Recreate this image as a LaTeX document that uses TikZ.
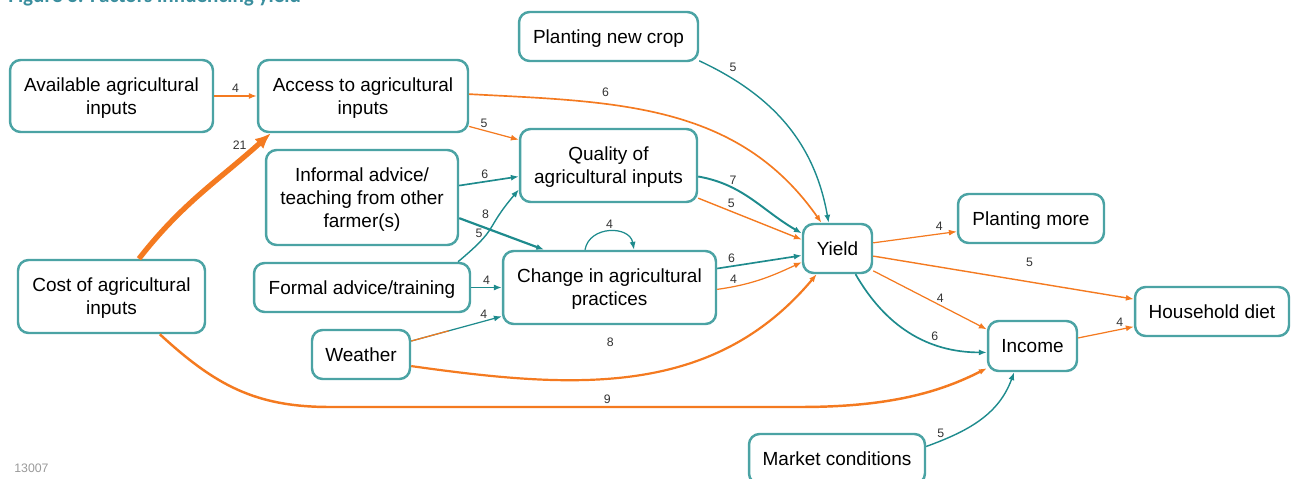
\documentclass[tikz,border=0pt]{standalone}
\usepackage{fontspec}
\setmainfont{Liberation Sans}
\newfontfamily\captionfont{Carlito}
\usetikzlibrary{arrows.meta}

\definecolor{boxteal}{HTML}{4BA3A4}
\definecolor{edgeteal}{HTML}{1E8B8D}
\definecolor{edgeorange}{HTML}{F47A20}
\definecolor{captionteal}{HTML}{3A8E9E}

\tikzset{
  factor/.style={draw=boxteal, line width=1.4pt, rounded corners=6pt, align=center,
    inner sep=0pt, text depth=0pt, font=\fontsize{10.8}{13.1}\selectfont},
  teal link/.style={draw=edgeteal, line width=#1, -{Latex[length=4.5pt,width=3.4pt]}},
  teal link/.default=0.7pt,
  orange link/.style={draw=edgeorange, line width=#1, -{Latex[length=4.5pt,width=3.4pt]}},
  orange link/.default=0.7pt,
  num/.style={font=\fontsize{7}{8}\selectfont, text=black!80, inner sep=1.5pt}
}

\begin{document}
\begin{tikzpicture}[x=0.02cm, y=0.02cm]
  \useasboundingbox (0,0) rectangle (1301,-479);

  % caption and id
  \node[anchor=base west, inner sep=0pt, text=captionteal, font=\captionfont\bfseries\fontsize{12}{14}\selectfont] (caption) at (8,-3) {Figure 3: Factors influencing yield};
  \node[anchor=base west, inner sep=0pt, text=black!40, font=\fontsize{7}{8}\selectfont] (figid) at (14,-472) {13007};

  % Draw factor boxes
  \node[factor, minimum width=4.06cm, minimum height=1.44cm] (avail) at (111.5,-96) {Available agricultural\\inputs};
  \node[factor, minimum width=4.2cm, minimum height=1.44cm] (access) at (363,-96) {Access to agricultural\\inputs};
  \node[factor, minimum width=3.58cm, minimum height=0.98cm] (newcrop) at (608.5,-36.5) {Planting new crop};
  \node[factor, minimum width=3.84cm, minimum height=1.9cm] (informal) at (362,-197.5) {Informal advice/\\teaching from other\\farmer(s)};
  \node[factor, minimum width=3.54cm, minimum height=1.46cm] (quality) at (608.5,-165.5) {Quality of\\agricultural inputs};
  \node[factor, minimum width=4.32cm, minimum height=0.98cm] (formal) at (362,-287.5) {Formal advice/training};
  \node[factor, minimum width=4.26cm, minimum height=1.46cm] (change) at (609.5,-287.5) {Change in agricultural\\practices};
  \node[factor, minimum width=3.74cm, minimum height=1.46cm] (cost) at (111.5,-296.5) {Cost of agricultural\\inputs};
  \node[factor, minimum width=1.96cm, minimum height=0.98cm] (weather) at (361,-354.5) {Weather};
  \node[factor, minimum width=1.38cm, minimum height=0.98cm] (yield) at (837.5,-248.5) {Yield};
  \node[factor, minimum width=2.92cm, minimum height=0.98cm] (more) at (1031,-218.5) {Planting more};
  \node[factor, minimum width=3.08cm, minimum height=0.98cm] (diet) at (1212,-311.5) {Household diet};
  \node[factor, minimum width=1.78cm, minimum height=1cm] (income) at (1032.5,-346) {Income};
  \node[factor, minimum width=3.52cm, minimum height=1cm] (market) at (837,-459) {Market conditions};

  % Inputs
  \draw[orange link] (avail.east) -- (access.west) node[num, midway, above] {4};
  \draw[orange link=3pt, -{Latex[length=9pt,width=7.5pt]}] (cost.54) to[out=52, in=-138] node[num, pos=0.91, left=3pt] {21} (access.202);
  \draw[orange link] (access.-16) -- (quality.164) node[num, pos=0.3, above] {5};
  \draw[orange link=0.95pt] (access.1) to[out=-3, in=125] node[num, pos=0.33, above=2pt] {6} (yield.122);
  \draw[teal link=0.8pt] (newcrop.-15) to[out=-25, in=100] node[num, pos=0.13, above right] {5} (yield.109);

  % Advice and practices
  \draw[teal link=0.95pt] (informal.7) -- (quality.187) node[num, pos=0.43, above] {6};
  \draw[teal link=1.25pt] (informal.-12) -- (change.150) node[num, pos=0.31, above=3pt] {8};
  \draw[teal link=0.8pt] (formal.15) to[out=40, in=-130, looseness=1.5] node[num, pos=0.4, left=1pt] {5} (quality.195);
  \draw[teal link] (formal.east) -- (change.west) node[num, midway, above] {4};
  \draw[teal link] (weather.15) -- (change.195) node[num, pos=0.8, above] {4};
  \draw[edgeorange, line width=0.7pt, shorten >=1.1cm] (weather.15) -- (change.195);
  \draw[teal link] (change.123) to[out=80, in=100, looseness=1.3] node[num, midway, above] {4} (change.57);

  % Into yield
  \draw[orange link=1.25pt] (weather.-13) to[out=-8, in=-130] node[num, pos=0.44, above=16pt] {8} (yield.231);
  \draw[teal link=1.1pt] (quality.-7) to[out=-10, in=150] node[num, pos=0.3, above] {7} (yield.157);
  \draw[orange link=0.8pt] (quality.-20) -- (yield.166) node[num, pos=0.32, above] {5};
  \draw[teal link=0.95pt] (change.10) -- (yield.191) node[num, pos=0.17, above] {6};
  \draw[orange link] (change.-1) to[out=8, in=-155] node[num, pos=0.17, above] {4} (yield.201);

  % Out of yield
  \draw[orange link] (yield.9) -- (more.190) node[num, pos=0.79, above] {4};
  \draw[orange link=0.8pt] (yield.-12) -- (diet.171) node[num, pos=0.6, above=7pt] {5};
  \draw[orange link] (yield.-32) -- (income.160) node[num, pos=0.59, above] {4};
  \draw[teal link=0.95pt] (yield.-55) to[out=-60, in=180] node[num, pos=0.68, above] {6} (income.188);
  \draw[orange link=1.4pt] (cost.-38) .. controls (215,-385) and (255,-407) .. (330,-407)
    -- node[num, pos=0.59, above] {9} (800,-407) .. controls (890,-407) and (940,-392) .. (income.206);
  \draw[teal link=0.8pt] (market.8) to[out=20, in=-110] node[num, pos=0.12, above] {5} (income.235);
  \draw[orange link] (income.10) -- (diet.191) node[num, pos=0.75, above] {4};
\end{tikzpicture}
\end{document}
